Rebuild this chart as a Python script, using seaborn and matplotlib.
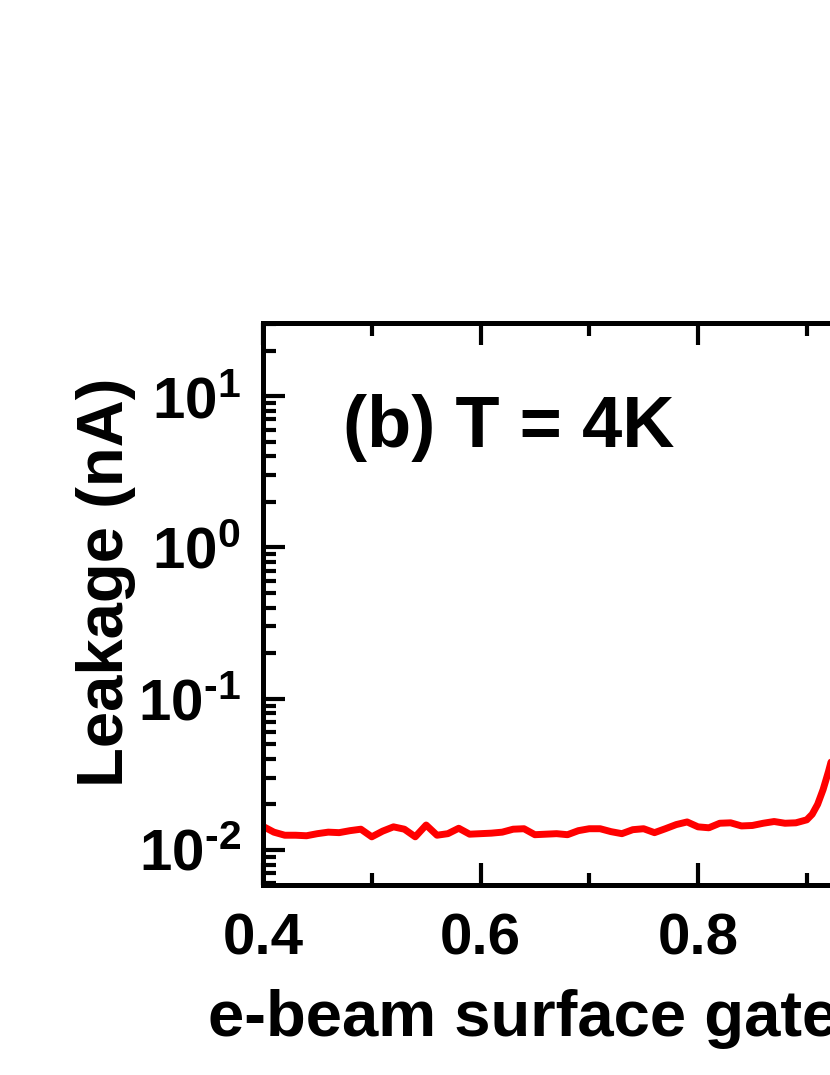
import numpy as np
import pandas as pd
import seaborn as sns
import matplotlib
matplotlib.use("Agg")
import matplotlib.pyplot as plt
from matplotlib.ticker import FixedLocator, FixedFormatter, LogLocator, NullFormatter, MultipleLocator

# leakage current vs e-beam surface gate voltage, T = 4K
gate_v = [0.40, 0.41, 0.42, 0.43, 0.44, 0.45, 0.46, 0.47, 0.48, 0.49,
          0.50, 0.51, 0.52, 0.53, 0.54, 0.55, 0.56, 0.57, 0.58, 0.59,
          0.60, 0.61, 0.62, 0.63, 0.64, 0.65, 0.66, 0.67, 0.68, 0.69,
          0.70, 0.71, 0.72, 0.73, 0.74, 0.75, 0.76, 0.77, 0.78, 0.79,
          0.80, 0.81, 0.82, 0.83, 0.84, 0.85, 0.86, 0.87, 0.88, 0.89,
          0.90, 0.905, 0.91, 0.915, 0.92, 0.925, 0.93]
leak_na = [0.0143, 0.0131, 0.0125, 0.0125, 0.0124, 0.0128, 0.0131, 0.0130, 0.0134, 0.0137,
           0.0122, 0.0133, 0.0142, 0.0137, 0.0122, 0.0146, 0.0125, 0.0128, 0.0139, 0.0127,
           0.0128, 0.0129, 0.0131, 0.0137, 0.0138, 0.0126, 0.0127, 0.0128, 0.0126, 0.0134,
           0.0138, 0.0138, 0.0132, 0.0128, 0.0136, 0.0138, 0.0130, 0.0138, 0.0147, 0.0153,
           0.0142, 0.0140, 0.0150, 0.0151, 0.0144, 0.0145, 0.0150, 0.0154, 0.0150, 0.0151,
           0.0158, 0.0172, 0.0200, 0.0250, 0.0330, 0.0450, 0.0600]

x_ticks = [0.4, 0.6, 0.8, 1.0]
x_tick_labels = ["0.4", "0.6", "0.8", "1.0"]
y_ticks = [1e-2, 1e-1, 1e0, 1e1]
y_tick_labels = [r"$10^{\text{-}2}$", r"$10^{\text{-}1}$", r"$10^{0}$", r"$10^{1}$"]

sns.set_theme(style="ticks")
plt.rcParams["font.family"] = ["Liberation Sans", "DejaVu Sans"]
plt.rcParams["font.weight"] = "bold"
plt.rcParams["mathtext.fontset"] = "custom"
plt.rcParams["mathtext.rm"] = "Liberation Sans:bold"
plt.rcParams["mathtext.it"] = "Liberation Sans:bold"
plt.rcParams["mathtext.bf"] = "Liberation Sans:bold"
plt.rcParams["text.color"] = "black"
plt.rcParams["axes.labelcolor"] = "black"
plt.rcParams["xtick.color"] = "black"
plt.rcParams["ytick.color"] = "black"

df = pd.DataFrame({"gate": gate_v, "leak": leak_na})

fig = plt.figure(figsize=(8.3, 10.75), dpi=100)
# axes runs past the right edge of the figure, like the cropped original
ax = fig.add_axes([263 / 830, 190 / 1075, 870 / 830, 562 / 1075])

sns.lineplot(data=df, x="gate", y="leak", color="#ff0000", linewidth=5, ax=ax)

ax.set_yscale("log")
ax.set_xlim(0.4, 1.2)
ax.set_ylim(0.00586, 30.4)

ax.xaxis.set_major_locator(FixedLocator(x_ticks))
ax.xaxis.set_major_formatter(FixedFormatter(x_tick_labels))
ax.xaxis.set_minor_locator(MultipleLocator(0.1))
ax.yaxis.set_major_locator(FixedLocator(y_ticks))
ax.yaxis.set_major_formatter(FixedFormatter(y_tick_labels))
ax.yaxis.set_minor_locator(LogLocator(base=10, subs=np.arange(2, 10)))
ax.yaxis.set_minor_formatter(NullFormatter())

ax.tick_params(which="both", direction="in", top=True, right=True, width=3, color="black")
ax.tick_params(which="major", length=16)
ax.tick_params(which="minor", length=9)
ax.tick_params(axis="x", which="major", labelsize=42, pad=20)
ax.tick_params(axis="y", which="major", labelsize=42, pad=16)
for s in ax.spines.values():
    s.set_linewidth(3.6)
    s.set_color("black")

ax.set_xlabel("e-beam surface gate voltage (V)", fontsize=47, fontweight="bold")
ax.set_ylabel("Leakage (nA)", fontsize=47, fontweight="bold")
ax.xaxis.label.set_horizontalalignment("left")
ax.xaxis.label.set_verticalalignment("baseline")
ax.xaxis.set_label_coords((208 - 263) / 870, -(1036 - 885) / 562)
ax.yaxis.set_label_coords((136 - 263) / 870, (885 - 582) / 562)

fig.text(343 / 830, (1075 - 447) / 1075, "(b) T = 4K", fontsize=52, fontweight="bold",
         va="baseline", ha="left")

fig.savefig("out.png", dpi=100)
